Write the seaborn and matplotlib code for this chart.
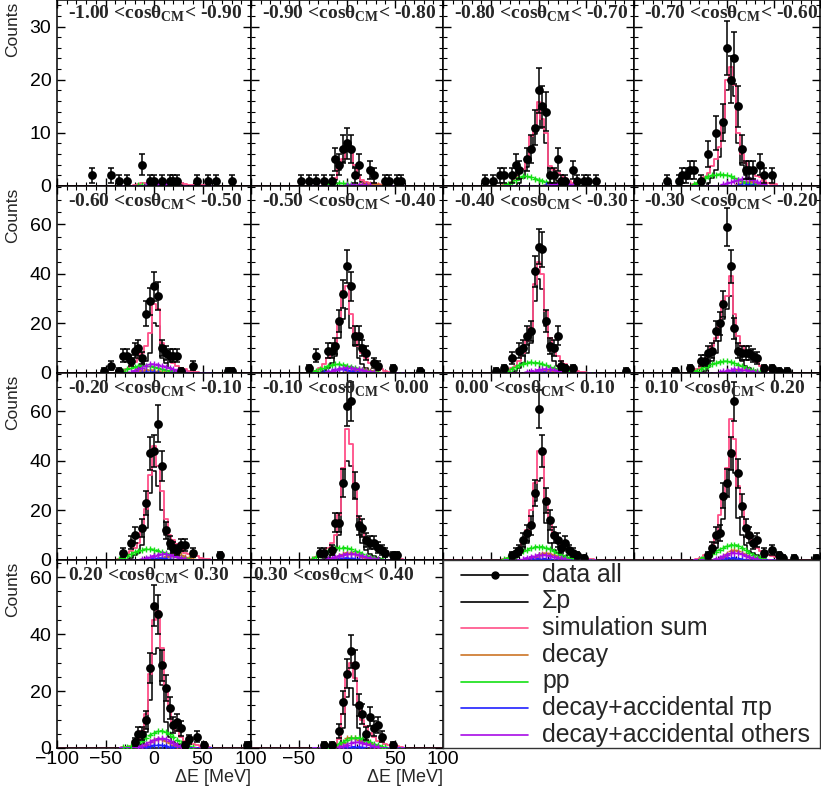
import numpy as np
import pandas as pd
import matplotlib
matplotlib.use("Agg")
import matplotlib.pyplot as plt
import seaborn as sns
from matplotlib.ticker import MultipleLocator, FixedLocator

sns.set_style("ticks")
plt.rcParams["font.family"] = ["Liberation Sans", "DejaVu Sans"]
plt.rcParams["mathtext.fontset"] = "custom"
plt.rcParams["mathtext.bf"] = "Liberation Serif:bold"
plt.rcParams["mathtext.rm"] = "Liberation Serif:bold"

# ---------------- data ----------------
cos_edges = ["-1.00", "-0.90", "-0.80", "-0.70", "-0.60", "-0.50", "-0.40", "-0.30",
             "-0.20", "-0.10", "0.00", "0.10", "0.20", "0.30", "0.40"]

hist_centers = [-36, -32, -28, -24, -20, -16, -12, -8, -4, 0, 4, 8, 12, 16, 20, 24, 28, 32, 36, 40, 44, 48, 52, 56, 60]

sigma_p = [
    [0,0,0,0,0,0,0,0,0,0.3,0.5,0.6,0.6,0.7,0.6,0.4,0.2,0,0,0,0,0,0,0,0],
    [0,0,0,0,0,0,1.2,3,4.5,6.5,6.8,3.5,1.5,0.8,0.4,0.2,0,0,0,0,0,0,0,0,0],
    [0,0,0,0,0.5,1.5,3.5,7,9.7,14.4,11,8,2.5,1.5,1,0.5,0.3,0,0,0,0,0,0,0,0],
    [0,0,0,0,0.5,1.5,3,5.5,10,18,20,17,8,4,2,1.5,0.8,0.4,0,0,0,0,0,0,0],
    [0,0,0,0,0.5,1.5,3,5,8,20,19,6,4,2,1,0.5,0,0,0,0,0,0,0,0,0],
    [0,0,0,1,2,4,7,14,22,26,18,11,6,3.5,2,1,0.5,0,0,0,0,0,0,0,0],
    [0,0,0,1,2,4,8,12,29,38,34,19,9,5,3,1.5,0.8,0.3,0,0,0,0,0,0,0],
    [0,0,0,1,2.5,5,8,13,22,26,31,18,9,5,3,2,1,0.5,0,0,0,0,0,0,0],
    [0,0,0,1,2,3,6,13,27,36,30,20,10,5,3,2,1,0.5,0,0,0,0,0,0,0],
    [0,0,0,0.5,1,2,4,10,30,40,38,25,12,7,4,2.5,1.5,1,0.5,0,0,0,0,0,0],
    [0,0,0,1,2,3.5,7,13,24,32,33,15,7,4,3,2,1.5,1,0.5,0,0,0,0,0,0],
    [0,0,0,0.5,1,2.5,5,10,16.5,26,44,35,17,10,6,3.5,3,2,1,0.5,0,0,0,0,0],
    [0,0,0,0,0.2,0.5,1.5,5.5,17,33,35,22,9,4,2,1.5,1,1,0.5,0,0,0,0,0,0],
    [0,0,0,0,0,0,0.1,0.5,7,18,21,15,7,3,1.5,1,0.5,0.3,0,0,0,0,0,0,0],
]

sim_sum = [
    [0,0,0,0,0.2,0.3,0.5,0.6,0.7,0.8,0.8,0.8,0.9,1.0,1.0,0.8,0.5,0.3,0.2,0.2,0.2,0.2,0.1,0,0],
    [0,0,0,0.1,0.3,0.5,1.5,3.5,5,7,7.2,4,2,1.2,0.8,0.5,0.4,0.3,0.2,0,0,0,0,0,0],
    [0.2,0.4,0.8,1.5,2.4,3.2,5.4,9.5,11.3,15.8,12.7,10,3.7,3,2.5,2,1.5,1,0.6,0.3,0,0,0,0,0],
    [0.3,0.6,1.1,1.7,2.4,3.7,5,7.3,12,20,22.3,19,10,6,4.3,3.4,2.5,1.9,1.6,1,0.6,0.4,0.3,0,0],
    [0.5,1,1.6,3,4.5,6,8,11,16,28,26,12,8,6,4,3,2,1.5,1,0.7,0.4,0,0,0,0],
    [0.5,1,2,3.5,6,8,11,21,33,35,24,16,11,8,6,4,3,2,1.5,1,0.6,0.4,0,0,0],
    [0.5,1,2,3,5,8,13,18,36,45,40,25,14,9,7,5,3.5,2.5,1.5,1,0.6,0.4,0,0,0],
    [0.5,1.5,2.5,4,7,11,14,20,29,31,39,24,15,11,9,8,6,4.5,3,2,1.2,0.7,0.4,0,0],
    [0.5,1,2,3.5,5,7,12,20.6,34.5,46,38,28,16.5,10,8,6.5,4.5,3,2.5,2,1.5,1,0.6,0.4,0],
    [0.5,1.3,2.2,3.5,5,7,10,18,37,53,47,31,17.5,12,9,7,5.5,4,3,2.5,2,1.5,1,0.5,0],
    [0.5,1,2,3,4.5,7,12,20,31,44,43,25,16,11,8,6,4.5,3.5,2.5,2,1.5,1,0.6,0.3,0],
    [0,0.5,1,2,3,5.5,10,18,25,37,57,49,30,20.5,14,9,6.5,5,3.5,2.5,2,1.5,1.2,0.8,0.4],
    [0,0.2,0.5,0.8,1.6,3,6,12,26,45,48,35,21,13,9,6,4,2.6,1.7,1.3,1,0.8,0.5,0.3,0],
    [0,0,0,0,0.2,0.5,1,3,12,26,30,24.6,15,10,7.7,5.4,3.7,2.5,2,1.4,1.1,1,0.8,0.4,0],
]

decay = [
    [0,0,0,0,0,0,0,0,0,0,0,0.1,0.1,0.15,0.15,0.1,0,0,0,0,0,0,0,0,0],
    [0,0,0,0,0,0,0,0,0,0,0,0.1,0.2,0.3,0.35,0.35,0.3,0.2,0.1,0,0,0,0,0,0],
    [0,0,0,0,0,0,0,0,0,0,0,0.2,0.4,0.5,0.6,0.6,0.5,0.3,0.2,0,0,0,0,0,0],
    [0,0,0,0,0,0,0,0,0,0,0,0,0.3,0.5,0.7,0.8,0.8,0.6,0.4,0.2,0,0,0,0,0],
    [0,0,0,0,0.5,0.8,1,1.2,1.2,1,0.8,0.6,0.4,0,0,0,0,0,0,0,0,0,0,0,0],
    [0,0,0,0,0,0,0,0,0,0.5,0.8,1.1,1.3,1.4,1.3,1,0.7,0.4,0,0,0,0,0,0,0],
    [0,0,0,0,0,0,0,0,0.3,0.5,0.8,1,1.1,1,0.8,0.6,0.4,0.2,0,0,0,0,0,0,0],
    [0,0,0,0,0,0,0,0,0,0.3,0.6,0.9,1.1,1.2,1.1,0.9,0.6,0.3,0,0,0,0,0,0,0],
    [0,0,0,0,0,0,0,0,0,0,0.3,0.7,1.2,1.8,2.4,2.5,2,1.3,0.7,0.3,0,0,0,0,0],
    [0,0,0,0,0,0.5,1,1.8,2.5,3,3,2.6,2,1.4,0.9,0.5,0.3,0,0,0,0,0,0,0,0],
    [0,0,0,0,0,0,0,0.5,1.2,2,2.6,2.8,2.5,2,1.4,0.9,0.5,0,0,0,0,0,0,0,0],
    [0,0,0,0,0,0,0,0.6,1.4,2.5,3.6,4,3.6,2.8,1.9,1.2,0.7,0.3,0,0,0,0,0,0,0],
    [0,0,0,0,0,0,0.5,1.1,2,2.9,3.2,3,2.4,1.7,1.1,0.6,0.3,0,0,0,0,0,0,0,0],
    [0,0,0,0,0,0,0,0.6,1.8,3.5,3.6,3.5,2.8,2.3,2.8,1.6,0.8,0.4,0,0,0,0,0,0,0],
]

pp = [
    [0,0,0,0,0,0.1,0.15,0.2,0.2,0.2,0.15,0.1,0,0,0,0,0,0,0,0,0,0,0,0,0],
    [0,0,0,0.1,0.3,0.4,0.5,0.5,0.5,0.4,0.3,0.2,0.1,0,0,0,0,0,0,0,0,0,0,0,0],
    [0.2,0.4,0.7,1.1,1.6,1.8,1.8,1.6,1.4,1.2,1,0.8,0.6,0.5,0.4,0.3,0.2,0,0,0,0,0,0,0,0],
    [0.3,0.6,1,1.5,1.8,2,2.1,2.2,2.1,2,1.8,1.5,1.2,0.9,0.6,0.4,0.3,0.2,0,0,0,0,0,0,0],
    [0.5,1,1.5,2,2.5,2.8,3,3,2.8,2.5,2,1.6,1.2,0.9,0.6,0.4,0.3,0,0,0,0,0,0,0,0],
    [0.5,1,1.6,2.2,2.8,3.2,3.5,3.5,3.3,3,2.6,2.2,1.7,1.3,0.9,0.6,0.4,0.2,0,0,0,0,0,0,0],
    [0.5,1,1.7,2.5,3.2,3.8,4.2,4.3,4.2,4,3.6,3.1,2.5,2,1.5,1.1,0.8,0.5,0.3,0,0,0,0,0,0],
    [0.5,1,1.6,2.3,3,3.6,4.1,4.5,4.7,4.7,4.5,4,3.4,2.8,2.2,1.6,1.1,0.7,0.4,0,0,0,0,0,0],
    [0.5,1,1.7,2.4,3.1,3.7,4.2,4.4,4.4,4.2,3.8,3.3,2.7,2.1,1.6,1.1,0.7,0.4,0.2,0,0,0,0,0,0],
    [0.4,1.2,2,2.8,3.5,4.2,4.7,5,5,4.8,4.4,3.8,3.1,2.4,1.8,1.3,0.9,0.5,0.3,0,0,0,0,0,0],
    [0.3,0.8,1.4,2,2.8,3.5,4.2,4.8,5.2,5.4,5.3,4.9,4.3,3.5,2.7,2,1.4,0.9,0.5,0,0,0,0,0,0],
    [0,0,0.6,1.2,1.8,2.6,3.4,4.2,5,5.6,6,6.2,5.8,5,4,3,2.1,1.4,0.8,0.4,0,0,0,0,0],
    [0,0.2,0.4,0.7,1.1,1.7,2.5,3.5,4.5,5.3,5.9,6,5.6,4.8,3.8,2.8,1.9,1.2,0.7,0.3,0,0,0,0,0],
    [0,0,0,0,0.2,0.5,0.9,1.5,2.2,2.9,3.4,3.6,3.5,3.1,2.6,2,1.4,0.9,0.5,0.2,0,0,0,0,0],
]

pi_p = [
    [0,0,0,0,0,0,0,0,0.05,0.05,0.05,0,0,0,0,0,0,0,0,0,0,0,0,0,0],
    [0,0,0,0,0,0,0,0,0,0.05,0.05,0,0,0,0,0,0,0,0,0,0,0,0,0,0],
    [0,0,0,0,0,0,0,0,0,0,0,0.1,0.15,0.15,0.1,0,0,0,0,0,0,0,0,0,0],
    [0,0,0,0,0,0,0,0,0,0,0,0,0.1,0.2,0.2,0.2,0.1,0,0,0,0,0,0,0,0],
    [0,0,0,0,0,0,0.2,0.3,0.3,0.3,0.2,0,0,0,0,0,0,0,0,0,0,0,0,0,0],
    [0,0,0,0.3,0.6,1,1.4,1.6,1.5,1.2,0.9,0.6,0.3,0,0,0,0,0,0,0,0,0,0,0,0],
    [0,0,0,0,0,0,0,0,0,0.2,0.3,0.3,0.2,0,0,0,0,0,0,0,0,0,0,0,0],
    [0,0,0,0,0,0,0,0,0,0,0.2,0.3,0.3,0.2,0,0,0,0,0,0,0,0,0,0,0],
    [0,0,0,0,0,0,0,0.3,0.5,0.7,0.8,0.7,0.5,0.3,0,0,0,0,0,0,0,0,0,0,0],
    [0,0,0,0,0,0,0.3,0.5,0.7,0.8,0.7,0.5,0.3,0,0,0,0,0,0,0,0,0,0,0,0],
    [0,0,0,0,0,0,0,0.3,0.5,0.6,0.6,0.5,0.3,0,0,0,0,0,0,0,0,0,0,0,0],
    [0,0,0,0,0,0,0,0.3,0.5,0.8,0.9,0.8,0.6,0.3,0,0,0,0,0,0,0,0,0,0,0],
    [0,0,0,0,0,0,0.2,0.4,0.7,0.9,1,0.9,0.7,0.4,0.2,0,0,0,0,0,0,0,0,0,0],
    [0,0,0,0,0,0,0,0,0.2,0.3,0.4,0.4,0.3,0.2,0,0,0,0,0,0,0,0,0,0,0],
]

others = [
    [0,0,0,0,0,0,0,0.1,0.2,0.25,0.3,0.3,0.3,0.25,0.2,0.1,0,0,0,0,0,0,0,0,0],
    [0,0,0,0,0,0,0,0,0,0.1,0.15,0.2,0.2,0.2,0.15,0.1,0,0,0,0,0,0,0,0,0],
    [0,0,0,0,0,0,0,0,0,0,0,0,0.2,0.35,0.45,0.5,0.45,0.3,0.15,0,0,0,0,0,0],
    [0,0,0,0,0,0,0,0,0.3,0.5,0.7,0.9,1.1,1.3,1.4,1.3,1.1,0.8,0.5,0.3,0,0,0,0,0],
    [0,0,0,0.5,1,1.5,2.2,3,3.5,3.6,3.4,3,2.5,2,1.5,1,0.6,0.4,0,0,0,0,0,0,0],
    [0,0,0,0,0.5,1,1.4,1.8,2,2.1,2,1.8,1.5,1.1,0.8,0.5,0.3,0,0,0,0,0,0,0,0],
    [0,0,0,0,0,0,0.4,0.7,1,1.3,1.5,1.6,1.5,1.3,1,0.7,0.4,0,0,0,0,0,0,0,0],
    [0,0,0,0,0,0,0,0.4,0.7,1,1.3,1.5,1.5,1.4,1.2,0.9,0.6,0.3,0,0,0,0,0,0,0],
    [0,0,0,0,0,0,0.4,0.8,1.3,1.8,2.2,2.4,2.4,2.2,1.8,1.3,0.8,0.4,0,0,0,0,0,0,0],
    [0,0,0,0,0.4,0.8,1.3,1.8,2.2,2.5,2.5,2.3,2,1.6,1.2,0.8,0.5,0.3,0,0,0,0,0,0,0],
    [0,0,0,0,0,0.5,0.9,1.3,1.7,2,2.1,2,1.8,1.4,1,0.7,0.4,0,0,0,0,0,0,0,0],
    [0,0,0,0,0,0,0.5,1,1.6,2.2,2.8,3,2.8,2.3,1.7,1.2,0.7,0.4,0,0,0,0,0,0,0],
    [0,0,0,0,0,0.4,0.8,1.4,2.1,2.8,3.3,3.4,3.1,2.5,1.8,1.2,0.7,0.3,0,0,0,0,0,0,0],
    [0,0,0,0,0,0,0,0.3,0.7,1.2,1.7,2,2,1.8,1.4,1,0.6,0.3,0,0,0,0,0,0,0],
]

data_x = [
    [-64,-44,-36,-28,-12,-4,0,8,16,20,24,44,56,64,80],
    [-48,-40,-32,-24,-16,-12,-8,-4,0,4,8,12,24,28,40,44,52,56],
    [-56,-48,-40,-36,-28,-24,-20,-12,-8,-4,0,4,8,12,16,20,24,28,36,40,48,52,60],
    [-64,-52,-48,-44,-40,-36,-28,-20,-12,-4,0,4,8,12,16,20,24,28,36,40,48],
    [-52,-44,-36,-32,-28,-24,-20,-16,-12,-8,-4,0,4,8,12,16,20,24,28,40,76,80],
    [-40,-32,-20,-16,-12,-8,-4,0,4,8,12,16,20,28,32,48,76],
    [-44,-36,-28,-20,-16,-12,-8,-4,0,4,8,12,16,20,24,28,36,92],
    [-56,-40,-28,-24,-20,-16,-12,-8,-4,0,4,8,12,16,20,24,28,32,40,48,56,64],
    [-32,-24,-20,-12,-8,-4,0,4,8,12,16,20,24,28,32,40,68],
    [-28,-24,-16,-12,-8,-4,0,4,8,12,16,20,24,28,32,36,40,48,52],
    [-28,-24,-20,-16,-12,-8,-4,0,4,8,12,16,20,24,28,32,36,40,48],
    [-20,-16,-12,-8,-4,0,4,8,12,16,20,24,28,32,40,48,56,60,72,96],
    [-20,-16,-12,-8,-4,0,4,8,12,16,20,24,28,32,36,44,52,96,100],
    [-24,-16,-8,-4,0,4,8,12,16,20,24,28,32,36,48],
]
data_y = [
    [2,2,1,1,4,1,1,1,1,1,1,1,1,1,1],
    [1,1,1,1,1,5,4,7,8,7,2,4,3,2,1,1,1,1],
    [1,1,2,2,2,4,3,5,7,11,18,15,14,2,2,5,1,1,3,1,1,1,1],
    [1,1,2,2,3,3,1,6,10,12,26,20,24,15,7,3,3,3,4,2,2],
    [1,3,1,7,7,5,9,10,6,24,29,35,31,10,8,7,7,7,1,3,1,1],
    [2,7,9,9,11,21,32,43,35,15,15,10,8,4,3,2,1],
    [1,2,6,9,10,15,17,41,51,50,21,11,10,15,3,2,2,1],
    [1,2,5,5,8,9,17,20,28,59,43,18,9,8,8,8,7,6,2,2,1,1],
    [3,7,10,13,23,43,44,55,38,12,7,5,4,6,6,3,2],
    [3,3,4,15,15,31,62,64,30,14,13,8,7,7,5,4,3,2,2],
    [2,3,4,8,11,14,27,61,44,24,16,10,8,5,7,4,3,2,1],
    [2,5,10,11,26,31,43,64,35,22,13,10,7,8,3,4,2,1,1,1],
    [2,5,5,10,28,50,47,29,21,14,8,9,7,1,3,4,1,1,1],
    [1,1,6,16,26,34,29,15,12,5,11,7,8,4,1],
]

legend_labels = ["data all", "Σp", "simulation sum", "decay", "pp",
                 "decay+accidental πp", "decay+accidental others"]

# ---------------- style ----------------
C_SIM = "#ff4f88"
C_DECAY = "#cc7426"
C_PP = "#14e014"
C_PIP = "#2020ff"
C_OTH = "#a80ce6"
bg_series = [(decay, C_DECAY), (pp, C_PP), (pi_p, C_PIP), (others, C_OTH)]

row_ymax = [35, 75.5, 75.5, 66]
row_major = [10, 20, 20, 20]
row_minor = [2, 5, 5, 5]

W, H = 821, 794
col_px = [57, 251, 443, 634, 820]
row_px = [0, 186, 373, 560, 748]


def rect(x0, x1, y0, y1):
    return [x0 / W, 1 - y1 / H, (x1 - x0) / W, (y1 - y0) / H]


full_centers = list(range(-100, 101, 4))
full_edges = list(range(-102, 103, 4))


def hist_frame(vals):
    out = [0.0] * len(full_centers)
    for c, v in zip(hist_centers, vals):
        out[(c + 100) // 4] = float(v)
    return pd.DataFrame({"dE": full_centers, "w": out})


fig = plt.figure(figsize=(W / 100, H / 100), dpi=100)

for p in range(14):
    row, col = divmod(p, 4)
    ax = fig.add_axes(rect(col_px[col], col_px[col + 1], row_px[row], row_px[row + 1]))
    hpx = row_px[row + 1] - row_px[row]

    sns.histplot(data=hist_frame(sigma_p[p]), x="dE", weights="w", bins=full_edges,
                 element="step", fill=False, color="black", linewidth=1.1, ax=ax)
    for series, colr in bg_series:
        vals = np.array(series[p], dtype=float)
        ax.plot(hist_centers, vals, color=colr, linestyle=(0, (2.5, 1.2)),
                linewidth=1.25, marker="+", markersize=3.8, markeredgewidth=1.0,
                markevery=list(vals > 0), zorder=3)
    sns.histplot(data=hist_frame(sim_sum[p]), x="dE", weights="w", bins=full_edges,
                 element="step", fill=False, color=C_SIM, linewidth=1.3, ax=ax)

    dx = np.array(data_x[p], dtype=float)
    dy = np.array(data_y[p], dtype=float)
    ax.errorbar(dx, dy, yerr=np.sqrt(dy), fmt="none", ecolor="black", elinewidth=1.1,
                capsize=2.4, capthick=1.1, zorder=4)
    sns.scatterplot(x=dx, y=dy, color="black", s=40, linewidth=0, ax=ax, zorder=5)

    ax.set_xlim(-100, 100)
    ax.set_ylim(0, row_ymax[row])
    ax.set_xlabel("")
    ax.set_ylabel("")
    ax.xaxis.set_major_locator(FixedLocator([-100, -50, 0, 50, 100]))
    ax.xaxis.set_minor_locator(MultipleLocator(10))
    ax.yaxis.set_major_locator(MultipleLocator(row_major[row]))
    ax.yaxis.set_minor_locator(MultipleLocator(row_minor[row]))
    ax.tick_params(which="both", direction="in", top=True, right=True,
                   labelsize=14, pad=2.5, colors="black")
    ax.tick_params(which="major", length=6, width=1.0)
    ax.tick_params(which="minor", length=3, width=0.8)
    ax.tick_params(axis="y", labelleft=(col == 0), pad=4)
    ax.tick_params(axis="x", labelbottom=(row == 3))
    if row == 3:
        labs = ["\u2212100", "\u221250", "0", "50", "100"]
        if col == 1:
            labs[0] = ""
        ax.set_xticks([-100, -50, 0, 50, 100], labels=labs)
    for s in ax.spines.values():
        s.set_linewidth(1.1)
        s.set_color("black")

    title = cos_edges[p] + " <cosθ$_{\\mathbf{CM}}$< " + cos_edges[p + 1]
    tx = 0.012 if p == 13 else 0.055
    ty = 1 - (18.5 if row == 0 else 20.5) / hpx
    ax.text(tx, ty, title, transform=ax.transAxes, fontsize=14, fontweight="bold",
            family="Liberation Serif", ha="left", va="baseline", zorder=6)

    if col == 0:
        fig.text(13 / W, 1 - (row_px[row] + 57) / H, "Counts", rotation=90,
                 ha="center", va="bottom", fontsize=12.5)
    if row == 3 and col in (0, 1):
        fig.text(col_px[col + 1] / W, 1 - 778 / H, "ΔE [MeV]", ha="right",
                 va="center", fontsize=13)

# ---------------- legend box ----------------
axl = fig.add_axes(rect(443, 820, 560, 748))
axl.set_xlim(443, 820)
axl.set_ylim(748, 560)
axl.set_xticks([])
axl.set_yticks([])
for s in axl.spines.values():
    s.set_linewidth(1.0)
    s.set_color("#333333")
leg_colors = ["black", "black", C_SIM, C_DECAY, C_PP, C_PIP, C_OTH]
for i, (lab, colr) in enumerate(zip(legend_labels, leg_colors)):
    yy = 575 + 26.67 * i
    axl.plot([461, 528], [yy, yy], color=colr, linewidth=1.2)
    if i == 0:
        axl.plot([494.5], [yy], marker="o", color="black", markersize=5)
    axl.text(542, yy + 6.5, lab, fontsize=17.9, ha="left", va="baseline")

fig.savefig("out.png", dpi=100)
